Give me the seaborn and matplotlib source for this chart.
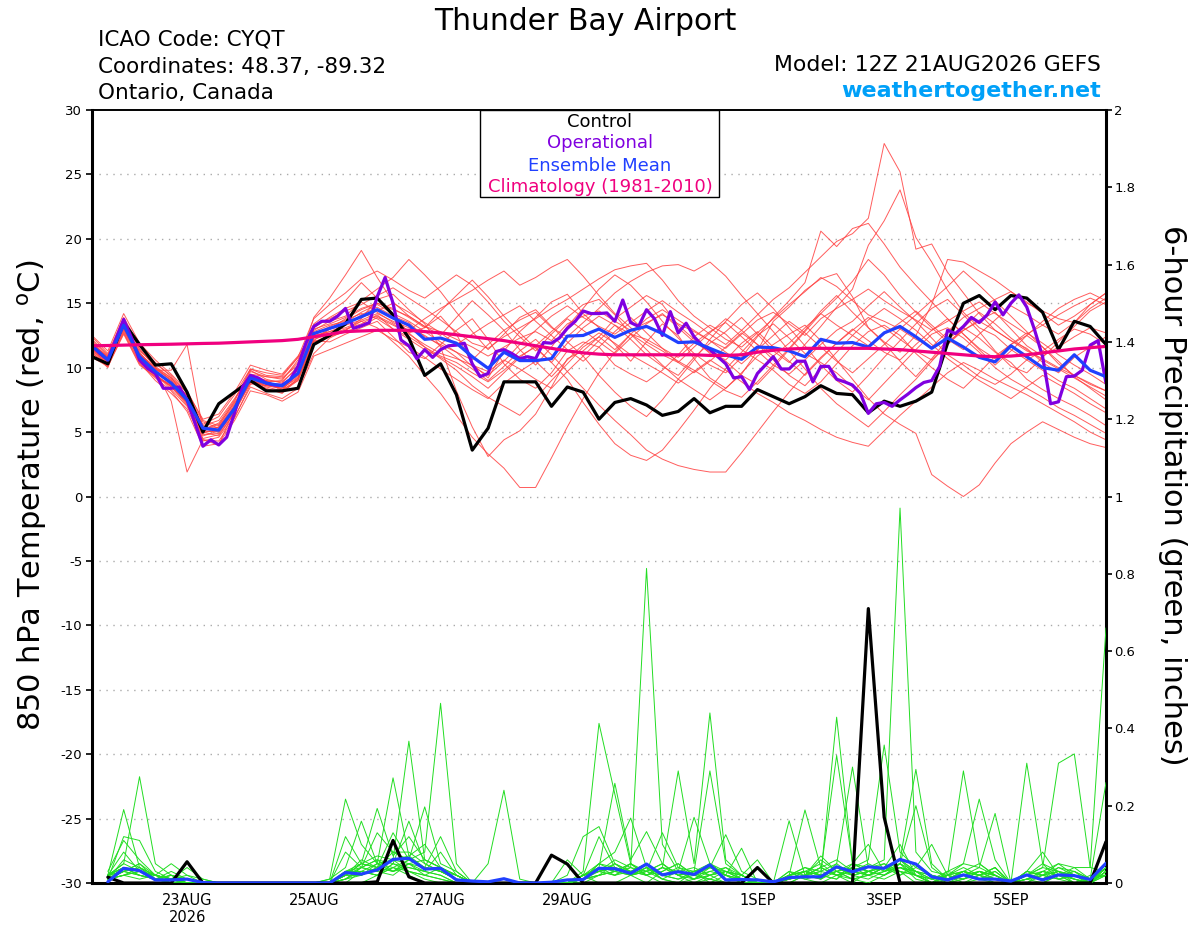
import numpy as np
import pandas as pd
import seaborn as sns
import matplotlib.pyplot as plt
from matplotlib.patches import Rectangle

# Tiempos ------------------------------------------------------------------------
t6 = pd.date_range("2026-08-21 12:00", periods=65, freq="6h")   # ensemble 6h
t3 = pd.date_range("2026-08-21 12:00", periods=129, freq="3h")  # operativo 3h
tp = t6[1:]                                                     # precipitacion 6h

# 850 hPa temperatura (C) --------------------------------------------------------
control_t = [10.85, 10.3, 13.5, 11.8, 10.2, 10.3, 8.1, 5.0, 7.2, 8.1, 9.0, 8.2, 8.2,
             8.4, 11.8, 12.5, 13.4, 15.3, 15.4, 14.1, 12.3, 9.4, 10.3, 7.9, 3.6, 5.3,
             8.9, 8.9, 8.9, 7.0, 8.5, 8.1, 6.0, 7.3, 7.6, 7.1, 6.3, 6.6, 7.6,
             6.5, 7.0, 7.0, 8.3, 7.75, 7.2, 7.75, 8.6, 8.0, 7.9, 6.5, 7.4, 7.0,
             7.4, 8.1, 11.9, 15.0, 15.6, 14.5, 15.6, 15.4, 14.3, 11.4, 13.6, 13.2, 11.8]

oper_t = [11.7, 11.1, 10.6, 12.2, 13.75, 12.3, 10.6, 9.95, 9.55, 8.4,
          8.4, 8.5, 7.5, 5.7, 3.9, 4.4, 4.0, 4.6, 6.5, 8.5,
          9.4, 9.2, 8.8, 8.65, 8.65, 9.05, 10.1, 11.9, 13.2, 13.6,
          13.6, 14.0, 14.6, 13.05, 13.25, 13.5, 15.5, 17.0, 15.0, 12.15,
          11.7, 10.7, 11.4, 10.8, 11.4, 11.7, 11.75, 11.9, 10.3, 9.3,
          9.55, 11.25, 11.4, 11.1, 10.7, 10.85, 10.7, 11.95, 11.9, 12.3,
          13.05, 13.6, 14.4, 14.2, 14.2, 14.25, 13.6, 15.25, 13.5, 13.2,
          14.5, 13.8, 12.5, 14.35, 12.7, 13.45, 12.4, 11.75, 11.4, 10.85,
          10.3, 9.2, 9.3, 8.3, 9.55, 10.2, 10.85, 9.9, 9.9, 10.5,
          10.5, 8.9, 10.1, 10.1, 9.1, 8.9, 8.65, 8.0, 6.45, 7.2,
          7.3, 7.0, 7.5, 7.95, 8.45, 8.85, 9.0, 10.1, 12.9, 12.65,
          13.2, 13.9, 13.5, 14.1, 15.1, 14.1, 15.0, 15.65, 14.7, 12.9,
          10.85, 7.2, 7.35, 9.3, 9.35, 9.8, 11.75, 12.1, 8.8]

mean_t = [11.7, 10.6, 13.3, 10.85, 9.7, 8.8, 7.5, 5.3, 5.15, 6.85, 9.2, 8.8, 8.6,
          9.55, 12.65, 13.05, 13.45, 13.95, 14.5, 13.85, 13.3, 12.2, 12.3, 11.9, 10.85, 9.95,
          11.2, 10.55, 10.55, 10.7, 12.45, 12.5, 13.0, 12.35, 12.9, 13.2, 12.65, 11.95, 12.0,
          11.5, 11.0, 10.65, 11.6, 11.55, 11.3, 10.85, 12.2, 11.9, 11.95, 11.6, 12.7, 13.2,
          12.4, 11.5, 12.3, 11.6, 10.8, 10.45, 11.7, 10.85, 10.0, 9.8, 11.0, 9.8, 9.3]

clim_t = [11.7, 11.72, 11.75, 11.78, 11.8, 11.82, 11.85, 11.88, 11.9, 11.95, 12.0, 12.05, 12.1,
          12.2, 12.4, 12.6, 12.8, 12.85, 12.9, 12.9, 12.9, 12.8, 12.7, 12.55, 12.4, 12.25,
          12.1, 11.9, 11.7, 11.5, 11.3, 11.15, 11.05, 11.0, 11.0, 11.0, 11.0, 11.0, 11.0,
          10.95, 10.95, 11.0, 11.2, 11.35, 11.45, 11.5, 11.5, 11.5, 11.5, 11.5, 11.45, 11.4,
          11.3, 11.2, 11.1, 11.0, 10.9, 10.85, 10.9, 11.0, 11.15, 11.3, 11.45, 11.55, 11.65]

m01 = [12.1, 10.9, 13.8, 11.4, 10.1, 9.2, 7.8, 5.0, 4.7, 6.5, 9.7, 9.3, 9.1,
       10.4, 13.4, 14.3, 15.2, 16.6, 15.4, 14.1, 12.7, 13.1, 14.0, 12.6, 10.3, 9.2,
       11.3, 12.8, 13.9, 15.1, 15.7, 14.2, 13.1, 11.8, 10.5, 12.0, 13.4, 12.5, 10.7,
       9.2, 8.4, 9.5, 11.3, 13.6, 14.7, 16.0, 16.9, 17.3, 15.5, 13.1, 11.9, 10.5,
       9.3, 10.7, 12.2, 13.1, 12.3, 11.2, 10.4, 9.1, 8.3, 7.6, 7.0, 6.3, 5.5]
m02 = [11.3, 10.2, 12.8, 10.4, 9.0, 8.0, 6.8, 4.3, 4.6, 6.2, 8.5, 8.0, 7.6,
       8.4, 11.1, 12.3, 12.9, 13.8, 15.3, 15.7, 14.5, 13.4, 11.6, 8.2, 5.4, 3.1,
       4.4, 5.1, 6.4, 8.5, 10.7, 11.3, 12.4, 13.8, 14.7, 15.6, 14.9, 13.3, 12.2,
       11.1, 10.5, 9.4, 8.7, 10.0, 11.4, 12.8, 14.2, 15.4, 16.7, 18.4, 17.2, 15.6,
       14.3, 13.1, 12.0, 12.9, 13.7, 14.3, 13.0, 11.7, 10.9, 11.6, 12.4, 13.1, 12.7]
m03 = [11.9, 10.8, 13.6, 11.2, 9.8, 7.4, 1.9, 4.4, 4.0, 6.8, 9.4, 9.0, 8.3,
       9.0, 12.1, 12.0, 12.6, 13.1, 13.6, 12.4, 11.2, 10.7, 11.8, 12.9, 13.8, 12.2,
       10.3, 9.1, 8.4, 9.6, 11.3, 12.0, 11.6, 10.2, 9.5, 8.9, 9.8, 11.0, 12.4,
       13.3, 12.6, 11.4, 10.6, 9.8, 8.7, 8.0, 8.9, 10.3, 11.7, 12.8, 13.3, 12.5,
       11.1, 10.0, 9.1, 8.4, 9.6, 10.9, 11.8, 12.5, 11.6, 10.3, 9.4, 8.7, 8.2]
m04 = [11.5, 10.4, 13.2, 11.0, 9.8, 9.8, 11.8, 5.2, 5.6, 7.3, 9.0, 8.5, 8.2,
       9.9, 12.9, 13.6, 14.0, 15.2, 16.1, 17.0, 18.4, 17.2, 15.9, 14.3, 12.8, 11.4,
       12.6, 13.9, 14.5, 13.2, 12.0, 10.9, 9.4, 8.1, 7.0, 6.2, 7.5, 9.1, 10.6,
       12.2, 13.6, 14.9, 15.8, 14.6, 13.1, 11.7, 10.2, 9.0, 8.1, 9.4, 10.8, 12.1,
       13.4, 14.6, 15.3, 14.1, 12.8, 11.3, 10.1, 9.6, 10.8, 12.0, 13.2, 14.4, 15.1]
m05 = [12.5, 11.3, 14.2, 11.9, 10.6, 9.5, 8.2, 5.9, 5.5, 7.4, 9.8, 9.1, 8.8,
       10.1, 13.9, 15.4, 17.2, 19.1, 17.0, 15.1, 14.0, 13.2, 12.5, 13.9, 15.2, 14.1,
       12.9, 11.4, 10.2, 11.6, 13.2, 14.6, 16.1, 17.2, 16.4, 15.1, 13.6, 12.3, 11.1,
       10.2, 9.6, 10.8, 12.4, 13.9, 15.2, 16.6, 20.6, 19.4, 20.8, 21.2, 19.6, 17.8,
       16.4, 15.1, 13.8, 12.6, 11.4, 10.2, 11.3, 12.5, 13.6, 14.6, 15.3, 15.8, 15.2]
m06 = [11.6, 10.5, 13.5, 10.7, 9.5, 8.5, 7.1, 4.9, 5.4, 7.0, 9.1, 8.6, 8.4,
       9.3, 12.4, 12.8, 13.3, 14.1, 14.7, 14.0, 13.5, 12.4, 11.8, 11.2, 10.1, 9.4,
       10.5, 11.8, 12.9, 14.0, 14.8, 13.9, 13.2, 12.6, 13.5, 14.4, 15.2, 14.3, 13.5,
       12.6, 11.8, 12.9, 14.1, 15.3, 16.2, 17.4, 18.6, 19.8, 20.4, 21.6, 27.4, 25.2,
       19.2, 19.6, 17.4, 15.8, 14.2, 12.9, 12.1, 11.5, 10.4, 9.6, 10.8, 11.6, 12.4]
m07 = [10.8, 10.1, 12.6, 10.2, 9.3, 8.7, 7.7, 5.6, 6.2, 7.9, 9.9, 9.6, 9.4,
       10.8, 12.1, 13.0, 13.8, 14.5, 15.0, 14.6, 13.9, 13.1, 14.4, 15.6, 16.8, 15.5,
       14.0, 12.7, 11.5, 10.4, 11.9, 13.1, 14.0, 13.3, 12.2, 11.0, 10.1, 9.4, 10.8,
       11.9, 12.8, 13.9, 12.6, 11.3, 10.4, 11.8, 13.2, 14.7, 16.1, 19.5, 21.4, 23.8,
       20.1, 18.2, 16.0, 14.3, 13.1, 12.5, 11.4, 10.6, 9.8, 9.0, 8.4, 7.6, 6.8]
m08 = [11.4, 10.5, 13.1, 10.6, 9.4, 8.6, 7.2, 4.5, 4.8, 6.5, 8.9, 8.4, 8.0,
       9.2, 12.2, 12.6, 13.0, 13.4, 14.1, 13.0, 12.2, 11.4, 10.8, 10.1, 9.3, 8.4,
       9.6, 10.8, 11.7, 12.8, 13.9, 14.9, 15.3, 14.1, 12.6, 11.4, 10.2, 9.1, 8.3,
       7.5, 8.4, 9.6, 10.9, 11.8, 12.6, 13.3, 12.1, 10.6, 9.1, 7.6, 6.4, 5.6,
       4.9, 1.7, 0.8, 0.0, 0.9, 2.6, 4.1, 5.0, 5.8, 5.2, 4.6, 4.1, 3.8]
m09 = [12.0, 10.7, 13.4, 11.1, 9.9, 9.0, 7.6, 5.1, 5.0, 6.6, 8.8, 8.6, 8.7,
       9.5, 12.0, 12.5, 12.9, 13.6, 13.1, 12.0, 10.9, 9.4, 8.0, 6.3, 4.6, 3.3,
       2.2, 0.7, 0.7, 3.0, 5.4, 7.6, 9.6, 11.2, 12.6, 12.2, 11.5, 10.8, 11.9,
       12.8, 13.5, 12.4, 11.3, 10.2, 9.5, 10.6, 11.8, 12.9, 13.6, 14.8, 15.9, 14.7,
       13.6, 12.3, 11.0, 10.2, 9.3, 8.7, 9.5, 10.6, 11.3, 12.2, 13.0, 12.6, 11.8]
m10 = [11.8, 10.9, 13.0, 11.3, 10.3, 9.4, 8.0, 5.5, 5.9, 7.6, 9.5, 9.3, 9.2,
       10.2, 13.1, 13.9, 14.6, 15.1, 14.3, 13.5, 12.9, 13.8, 14.6, 15.3, 16.0, 16.8,
       17.5, 16.4, 17.0, 17.8, 18.4, 17.1, 15.6, 14.2, 13.1, 12.0, 11.3, 10.5, 9.8,
       9.0, 8.2, 7.7, 8.9, 10.2, 11.5, 12.9, 14.4, 15.6, 14.3, 13.1, 12.0, 11.2,
       12.5, 14.9, 18.4, 18.2, 17.5, 16.8, 15.9, 15.0, 14.4, 13.8, 13.5, 14.9, 15.8]
m11 = [11.1, 10.3, 12.9, 10.7, 9.6, 8.9, 7.9, 5.8, 5.3, 6.9, 9.0, 8.7, 8.5,
       9.8, 12.5, 13.2, 13.7, 14.2, 13.8, 13.0, 12.4, 11.6, 10.9, 10.4, 9.6, 8.9,
       9.8, 10.9, 11.6, 10.4, 9.1, 7.3, 5.6, 4.1, 3.2, 2.8, 3.6, 5.1, 6.7,
       8.4, 9.9, 11.2, 12.5, 13.4, 12.3, 11.1, 10.4, 9.6, 8.5, 7.5, 8.8, 10.1,
       11.4, 12.6, 13.1, 12.3, 11.2, 10.0, 9.1, 8.4, 7.7, 6.9, 6.3, 5.6, 4.9]
m12 = [12.4, 11.1, 13.9, 11.7, 10.4, 9.3, 7.4, 4.4, 4.3, 6.1, 8.7, 8.9, 9.0,
       10.6, 13.3, 13.8, 14.4, 14.9, 15.6, 16.2, 15.4, 14.6, 13.7, 12.8, 11.9, 11.5,
       12.4, 13.1, 13.8, 14.6, 15.3, 16.1, 16.9, 17.6, 17.9, 18.1, 16.8, 15.2, 14.0,
       13.1, 12.2, 11.6, 12.7, 13.8, 14.9, 15.9, 17.0, 16.3, 15.2, 14.1, 13.6, 13.0,
       12.2, 11.6, 12.8, 13.9, 14.6, 15.3, 15.9, 15.1, 14.2, 13.3, 14.0, 14.9, 15.8]
m13 = [11.2, 10.0, 13.1, 10.8, 9.5, 8.3, 7.0, 4.7, 5.1, 7.1, 9.3, 8.9, 8.2,
       9.1, 12.3, 13.0, 13.5, 14.3, 14.9, 14.2, 13.6, 12.8, 12.0, 11.2, 10.6, 11.8,
       12.9, 13.7, 14.3, 13.1, 12.4, 13.5, 14.6, 15.8, 16.7, 17.4, 17.9, 18.0, 17.5,
       18.2, 17.1, 15.6, 14.2, 12.8, 11.3, 9.9, 8.4, 7.2, 6.3, 5.4, 6.6, 7.9,
       9.1, 10.5, 11.8, 13.1, 14.3, 13.4, 12.3, 11.4, 10.6, 9.9, 9.2, 8.5, 7.8]
m14 = [11.6, 10.6, 13.3, 10.9, 9.7, 8.8, 7.3, 5.1, 5.4, 7.2, 9.3, 8.7, 8.5,
       9.4, 12.6, 13.0, 13.3, 13.7, 14.2, 13.6, 13.1, 12.5, 11.7, 10.8, 9.9, 9.0,
       10.1, 11.3, 12.2, 11.0, 9.7, 8.4, 7.1, 5.9, 4.8, 3.6, 2.9, 2.4, 2.1,
       1.9, 1.9, 3.4, 5.0, 6.6, 8.1, 9.5, 10.8, 11.9, 12.9, 13.9, 13.1, 12.2,
       11.3, 10.6, 11.8, 12.9, 13.6, 12.9, 12.1, 11.3, 10.7, 10.0, 9.4, 8.8, 8.2]
m15 = [11.9, 10.6, 13.5, 11.0, 9.9, 9.1, 7.7, 5.4, 5.3, 7.0, 9.4, 9.0, 8.9,
       10.0, 13.0, 13.4, 13.9, 14.6, 15.0, 14.5, 14.0, 13.2, 12.8, 12.2, 11.6, 10.9,
       11.6, 12.3, 12.8, 12.1, 13.4, 14.0, 14.4, 13.6, 12.9, 13.5, 14.1, 13.4, 12.8,
       12.1, 11.5, 12.6, 13.7, 14.3, 13.4, 12.5, 13.8, 14.6, 15.3, 16.1, 15.2, 14.4,
       13.7, 12.9, 13.6, 14.4, 15.1, 14.2, 13.4, 12.6, 13.3, 14.1, 14.8, 15.4, 14.9]
m16 = [11.0, 10.1, 12.7, 10.3, 9.2, 8.2, 6.6, 3.9, 4.1, 5.9, 8.2, 7.9, 7.4,
       8.1, 10.9, 11.4, 11.9, 12.4, 12.9, 12.2, 11.6, 10.8, 9.9, 9.1, 8.3, 7.6,
       8.8, 9.7, 10.5, 9.3, 10.6, 11.8, 12.7, 11.9, 11.0, 10.3, 9.6, 8.8, 9.7,
       10.6, 9.8, 8.9, 8.0, 7.3, 6.5, 5.9, 5.2, 4.6, 4.2, 3.9, 5.1, 6.3,
       7.4, 8.5, 9.6, 10.4, 9.8, 9.1, 8.5, 7.9, 7.2, 6.5, 5.8, 5.0, 4.4]
m17 = [12.2, 11.0, 13.7, 11.5, 10.0, 9.0, 7.5, 5.2, 5.7, 7.5, 9.9, 9.4, 9.3,
       10.8, 13.8, 14.9, 15.8, 16.9, 17.5, 16.8, 16.0, 15.4, 16.3, 17.2, 16.4, 15.1,
       13.6, 12.4, 11.3, 12.6, 13.8, 12.9, 12.0, 11.1, 12.3, 13.4, 14.2, 13.1, 12.0,
       11.2, 10.6, 11.9, 12.8, 11.6, 10.5, 9.4, 10.7, 11.9, 13.0, 12.1, 11.2, 10.6,
       11.8, 12.9, 13.8, 12.6, 11.5, 10.7, 11.8, 12.7, 11.9, 11.0, 10.2, 9.5, 8.7]
m18 = [11.3, 10.4, 13.0, 10.5, 9.3, 8.6, 7.3, 4.8, 4.9, 6.7, 8.9, 8.3, 8.1,
       9.0, 12.0, 12.4, 12.8, 13.2, 13.9, 13.3, 12.7, 11.6, 10.7, 9.8, 8.6, 7.7,
       7.0, 6.3, 7.6, 9.0, 10.3, 11.6, 12.4, 11.4, 12.6, 13.8, 14.5, 13.7, 12.9,
       12.1, 11.2, 10.3, 11.4, 12.5, 13.6, 12.7, 11.6, 10.5, 9.6, 10.7, 11.8, 13.0,
       14.1, 15.2, 16.3, 17.5, 16.4, 15.2, 14.0, 12.8, 11.6, 10.5, 9.3, 8.4, 7.5]
m19 = [11.7, 10.8, 13.2, 11.1, 10.0, 9.2, 8.1, 6.0, 6.4, 8.1, 10.2, 9.8, 9.5,
       10.9, 12.8, 13.3, 13.6, 13.9, 14.4, 15.0, 14.3, 13.5, 12.7, 11.8, 12.6, 13.4,
       14.1, 14.8, 13.6, 12.5, 11.4, 10.5, 11.6, 12.8, 13.9, 12.7, 11.5, 10.4, 9.6,
       10.5, 11.6, 12.7, 11.8, 10.9, 11.9, 13.1, 14.2, 13.3, 12.5, 11.7, 12.6, 13.5,
       14.4, 13.3, 12.2, 11.4, 12.6, 13.7, 14.8, 14.1, 13.3, 12.6, 13.5, 14.6, 15.4]
m20 = [11.5, 10.2, 13.3, 10.6, 9.4, 8.5, 7.3, 5.0, 5.1, 6.8, 9.0, 8.6, 8.4,
       9.2, 12.5, 12.8, 13.1, 13.6, 14.0, 13.4, 12.6, 11.8, 11.1, 10.7, 10.2, 9.7,
       10.6, 9.9, 9.1, 8.4, 9.7, 10.9, 12.1, 13.3, 12.6, 11.8, 11.0, 10.4, 11.6,
       12.7, 13.8, 12.9, 11.8, 10.6, 9.4, 8.6, 9.9, 11.2, 12.5, 13.7, 14.6, 13.8,
       12.9, 11.8, 10.7, 9.8, 9.0, 8.3, 7.6, 8.5, 9.4, 8.7, 8.0, 7.2, 6.5]
members_t = [m01, m02, m03, m04, m05, m06, m07, m08, m09, m10,
             m11, m12, m13, m14, m15, m16, m17, m18, m19, m20]

# Precipitacion 6h (pulgadas), 21AUG 18Z en adelante -----------------------------
control_p = [.015, 0, 0, 0, 0, .055, 0, 0, 0, 0, 0, 0, 0, 0, 0, 0,
             0, .003, .11, .016, 0, 0, 0, 0, 0, 0, 0, 0, .072, .049, 0, 0,
             0, 0, 0, 0, 0, 0, 0, 0, 0, .04, 0, 0, 0, 0, 0, 0,
             .71, .17, 0, 0, 0, 0, 0, 0, 0, 0, 0, 0, 0, 0, 0, .107]
mean_p = [.003, .038, .032, .008, .008, .01, .001, 0, 0, 0, 0, 0, 0, 0, 0, .027,
          .023, .034, .061, .064, .036, .038, .008, .005, .003, .011, 0, 0, .002, .008, .009, .038,
          .037, .025, .049, .021, .029, .022, .047, .008, .009, .008, .003, .014, .016, .016, .042, .029,
          .042, .038, .061, .049, .016, .008, .021, .01, .01, .005, .021, .008, .021, .019, .009, .051]

g01 = [.02, .19, .04, .01, 0, 0, 0, 0, 0, 0, 0, 0, 0, 0, 0, .01,
       .03, .02, .04, .02, 0, 0, 0, 0, 0, 0, 0, 0, 0, .06, .02, 0,
       0, .02, .04, .01, 0, .03, 0, .02, .09, 0, 0, .03, .01, 0, .02, .04,
       .02, .01, .03, 0, 0, .02, .05, .217, .06, 0, 0, 0, .02, 0, 0, .03]
g02 = [.01, .12, .11, .03, .01, 0, 0, 0, 0, 0, 0, 0, 0, 0, 0, .02,
       .02, .04, .06, .03, .01, 0, 0, 0, 0, 0, 0, 0, 0, .02, .12, .146,
       .05, .02, 0, .03, .05, .02, .01, 0, 0, 0, 0, .01, .03, .05, .02, 0,
       .03, .04, .1, .02, 0, 0, .01, .03, .02, 0, 0, .03, .05, .02, 0, .04]
g03 = [.03, .11, .06, .02, 0, 0, 0, 0, 0, 0, 0, 0, 0, 0, 0, 0,
       0, .02, .05, .03, .02, .01, 0, 0, 0, 0, 0, 0, 0, 0, .03, .413,
       .23, .05, .02, 0, 0, .01, .04, .02, 0, 0, 0, 0, .02, .06, .03, .01,
       0, .02, .05, .03, .01, 0, 0, .02, .04, 0, .03, .08, .02, 0, 0, .02]
g04 = [.02, .08, .03, .01, .03, .01, 0, 0, 0, 0, 0, 0, 0, 0, 0, .02,
       .04, .03, .02, .05, .03, .02, 0, 0, 0, 0, 0, 0, 0, 0, .02, .12,
       .04, .02, .03, .01, 0, 0, .02, .03, .01, 0, 0, .02, .04, .02, .01, .05,
       .1, .03, .04, .02, 0, .02, .04, .02, 0, 0, .02, .05, .03, 0, .01, .05]
g05 = [.01, .06, .04, .02, .01, 0, 0, 0, 0, 0, 0, 0, 0, 0, 0, .03,
       .03, .02, .04, .06, .04, .03, .01, 0, 0, 0, 0, 0, 0, 0, .01, .04,
       .258, .06, .133, .05, .02, 0, .01, .03, .02, 0, 0, .01, .02, .04, .06, .03,
       .02, .04, .06, .02, 0, .03, .02, .01, 0, 0, .31, .05, .01, 0, .02, .02]
g06 = [.02, .04, .02, .01, .02, .01, 0, 0, 0, 0, 0, 0, 0, 0, 0, .01,
       .04, .06, .03, .05, .02, .04, .02, 0, 0, 0, 0, 0, 0, 0, .02, .05,
       .08, .168, .04, .02, .01, .03, .02, 0, 0, 0, 0, .02, .03, .01, .04, .02,
       .03, .05, .02, .04, .1, .02, 0, .01, .03, 0, 0, .02, .03, .01, 0, .03]
g07 = [.01, .03, .02, .01, .01, .02, .01, 0, 0, 0, 0, 0, 0, 0, 0, .01,
       .02, .04, .03, .05, .06, .04, .01, 0, 0, 0, 0, 0, 0, 0, .01, .03,
       .06, .04, .814, .1, .03, .01, .02, .04, .01, 0, 0, 0, .02, .03, .05, .02,
       .01, .03, .04, .02, 0, 0, .02, .04, .02, 0, .01, .03, .02, .01, 0, .04]
g08 = [.02, .05, .275, .05, .02, .01, 0, 0, 0, 0, 0, 0, 0, 0, 0, .02,
       .02, .05, .04, .03, .02, .01, 0, 0, 0, 0, 0, 0, 0, 0, .02, .03,
       .02, .05, .03, .13, .04, .02, .01, 0, .02, 0, 0, .01, .02, .04, .02, .03,
       .02, .04, .06, .03, .01, .02, .29, .05, .02, 0, .01, 0, .02, .03, .01, .02]
g09 = [.01, .03, .05, .02, .01, 0, 0, 0, 0, 0, 0, 0, 0, 0, 0, 0,
       .03, .02, .05, .04, .03, .02, 0, 0, 0, 0, 0, 0, 0, 0, 0, .02,
       .05, .03, .02, .04, .29, .05, .44, .06, .02, 0, 0, .02, .03, .02, .01, .04,
       .03, .02, .05, .02, 0, .01, .03, .02, .01, 0, .02, .04, .31, .334, .04, .03]
g10 = [.02, .04, .03, .02, .05, .02, 0, 0, 0, 0, 0, 0, 0, 0, 0, .01,
       .04, .03, .06, .05, .04, .03, .01, 0, .05, .24, .01, 0, 0, 0, .01, .02,
       .03, .02, .04, .02, .03, .17, .05, .02, .01, 0, 0, .01, .02, .03, .02, .01,
       .02, .03, .05, .01, 0, .02, .01, .03, .02, 0, .01, .02, .04, .02, 0, .03]
g11 = [.01, .02, .03, .02, .01, .04, .01, 0, 0, 0, 0, 0, 0, 0, 0, .02,
       .05, .04, .03, .06, .08, .465, .05, 0, 0, 0, 0, 0, 0, 0, .02, .03,
       .04, .02, .03, .02, .01, .02, .04, .03, .01, 0, 0, .02, .01, .02, .03, .01,
       .02, .04, .03, .02, .01, .03, .05, .04, .18, 0, .01, .02, .03, .01, 0, .02]
g12 = [.01, .02, .04, .01, 0, .01, 0, 0, 0, 0, 0, 0, 0, 0, .01, .217,
       .1, .05, .03, .04, .03, .08, .02, 0, 0, 0, 0, 0, 0, 0, .02, .04,
       .03, .05, .02, .04, .02, .01, .03, .02, 0, 0, 0, .02, .04, .03, .33, .05,
       .03, .02, .04, .03, 0, .02, .03, .01, .02, 0, .03, .02, .01, .02, 0, .05]
g13 = [.02, .03, .02, .01, .01, 0, 0, 0, 0, 0, 0, 0, 0, 0, 0, .12,
       .05, .04, .08, .06, .04, .03, .01, 0, 0, 0, 0, 0, 0, 0, .01, .05,
       .04, .03, .05, .02, .04, .03, .29, .05, .02, 0, 0, .01, .02, .04, .02, .03,
       .05, .03, .06, .294, .05, .01, .02, .03, .01, 0, .02, .01, .03, .02, 0, .04]
g14 = [.01, .04, .03, .02, .01, .01, 0, 0, 0, 0, 0, 0, 0, 0, 0, .08,
       .04, .06, .05, .16, .05, .03, .02, 0, 0, 0, 0, 0, 0, 0, .02, .03,
       .02, .04, .03, .05, .02, .03, .04, .125, .03, .01, 0, .02, .03, .02, .04, .02,
       .03, .04, .02, .05, .02, 0, .01, .02, .03, 0, .02, .01, .02, .03, .01, .26]
g15 = [.02, .03, .05, .01, .02, 0, 0, 0, 0, 0, 0, 0, 0, 0, .01, .04,
       .16, .05, .06, .07, .04, .12, .03, 0, 0, 0, 0, 0, 0, 0, .01, .02,
       .03, .02, .04, .01, .03, .02, .05, .03, .02, 0, 0, .03, .02, .01, .05, .3,
       .04, .05, .03, .02, .01, .02, .03, .05, .02, 0, .01, .03, .02, .04, .01, .02]
g16 = [.01, .02, .01, .02, .01, 0, 0, 0, 0, 0, 0, 0, 0, 0, 0, .02,
       .05, .193, .07, .12, .06, .04, .02, 0, 0, 0, 0, 0, 0, 0, .02, .04,
       .02, .03, .05, .02, .03, .04, .02, .03, .02, .06, 0, .01, .03, .02, .03, .04,
       .06, .357, .08, .04, .02, .01, .03, .02, .04, 0, .03, .02, .01, .02, 0, .03]
g17 = [.02, .04, .02, .01, 0, 0, 0, 0, 0, 0, 0, 0, 0, 0, 0, .03,
       .04, .13, .08, .08, .05, .03, .01, 0, 0, 0, 0, 0, 0, 0, .02, .03,
       .04, .02, .03, .05, .02, .03, .04, .02, .01, 0, 0, .161, .02, .01, .03, .05,
       .04, .06, .97, .08, .03, .02, .01, .03, .02, 0, .02, .04, .03, .02, .01, .04]
g18 = [.01, .03, .04, .02, .01, .01, 0, 0, 0, 0, 0, 0, 0, 0, 0, .03,
       .03, .05, .272, .07, .1, .04, .02, 0, 0, 0, 0, 0, 0, 0, .01, .02,
       .03, .05, .02, .04, .03, .01, .02, .03, .01, 0, 0, .02, .189, .04, .02, .03,
       .02, .04, .05, .2, .04, .01, .03, .02, .01, 0, .02, .01, .04, .03, 0, .05]
g19 = [.02, .05, .03, .01, .02, 0, 0, 0, 0, 0, 0, 0, 0, 0, 0, .02,
       .06, .04, .13, .06, .197, .05, .03, 0, 0, 0, 0, 0, 0, 0, .02, .03,
       .05, .03, .02, .04, .02, .03, .05, .02, .01, 0, 0, .01, .02, .07, .03, .02,
       .03, .02, .04, .03, .02, .01, .02, .03, .01, 0, .03, .02, .05, .04, .04, .66]
g20 = [.01, .02, .03, .02, .01, .01, 0, 0, 0, 0, 0, 0, 0, 0, 0, .03,
       .05, .07, .06, .367, .06, .04, .02, 0, 0, 0, 0, 0, 0, 0, .01, .05,
       .03, .04, .02, .03, .05, .02, .03, .04, .02, 0, 0, .02, .03, .02, .429, .05,
       .03, .04, .06, .03, .02, .01, .03, .02, .04, 0, .02, .03, .02, .01, 0, .03]
members_p = [g01, g02, g03, g04, g05, g06, g07, g08, g09, g10,
             g11, g12, g13, g14, g15, g16, g17, g18, g19, g20]

tick_fechas = pd.to_datetime(["2026-08-23", "2026-08-25", "2026-08-27", "2026-08-29",
                              "2026-09-01", "2026-09-03", "2026-09-05"])
tick_etiquetas = ["23AUG\n2026", "25AUG", "27AUG", "29AUG", "1SEP", "3SEP", "5SEP"]

# Colores -----------------------------------------------------------------------
C_MIEMBRO_T = "#ff4040"
C_MIEMBRO_P = "#22dd22"
C_OPER = "#8000e0"
C_MEDIA = "#2040ff"
C_CLIMA = "#f0007f"
C_WEB = "#00a0f8"

# Tablas largas para seaborn ----------------------------------------------------
df_t = pd.DataFrame({
    "time": np.tile(t6, len(members_t)),
    "temp": np.concatenate(members_t),
    "member": np.repeat(np.arange(len(members_t)), len(t6)),
})
df_p = pd.DataFrame({
    "time": np.tile(tp, len(members_p)),
    "prcp": np.concatenate(members_p),
    "member": np.repeat(np.arange(len(members_p)), len(tp)),
})

# Figura ------------------------------------------------------------------------
sns.set_theme(style="white")
plt.rcParams["font.family"] = ["DejaVu Sans"]
plt.rcParams["text.color"] = "black"
plt.rcParams["axes.labelcolor"] = "black"
plt.rcParams["xtick.color"] = "black"
plt.rcParams["ytick.color"] = "black"

W, H = 1200, 927
fig = plt.figure(figsize=(W / 100, H / 100), dpi=100)
ax = fig.add_axes([92 / W, 1 - 883 / H, (1106 - 92) / W, (883 - 110) / H])

def fx(px):
    return px / W

def fy(py):
    return 1 - py / H

# Temperatura
sns.lineplot(data=df_t, x="time", y="temp", units="member", estimator=None,
             color=C_MIEMBRO_T, lw=0.7, alpha=0.85, ax=ax, legend=False)
sns.lineplot(x=t6, y=control_t, color="black", lw=2.3, ax=ax)
sns.lineplot(x=t3, y=oper_t, color=C_OPER, lw=2.3, ax=ax)
sns.lineplot(x=t6, y=mean_t, color=C_MEDIA, lw=2.3, ax=ax)
sns.lineplot(x=t6, y=clim_t, color=C_CLIMA, lw=2.3, ax=ax)

ax.set_xlim(t6[0], t6[-1])
ax.set_ylim(-30, 30)
ax.set_yticks(np.arange(-30, 31, 5))
ax.set_yticklabels([str(v) for v in range(-30, 31, 5)], fontsize=9.5, color="black")
ax.set_xticks(tick_fechas)
ax.set_xticklabels(tick_etiquetas, fontsize=10.5, color="black")
ax.set_xlabel("")
ax.set_ylabel("")
for g in range(-25, 30, 5):
    ax.axhline(g, color="#aaaaaa", lw=1, ls=(0, (1, 4)), zorder=0)
ax.tick_params(axis="y", direction="out", length=4, width=1.2, pad=3, colors="black")
ax.tick_params(axis="x", length=0, pad=7, colors="black")
for s in ["left", "bottom", "right"]:
    ax.spines[s].set_linewidth(2.2)
    ax.spines[s].set_color("black")
ax.spines["top"].set_linewidth(1.4)
ax.spines["top"].set_color("black")

# Precipitacion
ax2 = ax.twinx()
sns.lineplot(data=df_p, x="time", y="prcp", units="member", estimator=None,
             color=C_MIEMBRO_P, lw=0.7, ax=ax2, legend=False)
sns.lineplot(x=tp, y=control_p, color="black", lw=2.3, ax=ax2)
sns.lineplot(x=tp, y=mean_p, color=C_MEDIA, lw=2.3, ax=ax2)
ax2.set_ylim(0, 2)
ax2.set_xlim(t6[0], t6[-1])
ax2.set_yticks(np.arange(0, 2.01, 0.2))
ax2.set_yticklabels([f"{v:g}" for v in np.round(np.arange(0, 2.01, 0.2), 1)],
                    fontsize=9.5, color="black")
ax2.set_ylabel("")
ax2.set_xlabel("")
ax2.tick_params(axis="y", direction="out", length=4, width=1.2, pad=2, colors="black")
ax2.grid(False)
for s in ax2.spines.values():
    s.set_visible(False)

# Caja de leyenda
ax.add_patch(Rectangle((fx(480), fy(197)), fx(719) - fx(480), fy(110) - fy(197),
                       transform=fig.transFigure, fill=True, facecolor="white",
                       edgecolor="black", lw=1.0, zorder=5))
leyenda = [("Control", "black", 127.3), ("Operational", C_OPER, 148.3),
           ("Ensemble Mean", C_MEDIA, 170.7), ("Climatology (1981-2010)", C_CLIMA, 192.3)]
for txt, col, yb in leyenda:
    fig.text(fx(600), fy(yb), txt, color=col, fontsize=13, ha="center", va="baseline", zorder=6)

# Textos
fig.text(fx(585), fy(29.5), "Thunder Bay Airport", fontsize=21.5, ha="center", va="baseline",
         color="black")
fig.text(fx(98), fy(45.7), "ICAO Code: CYQT", fontsize=15.5, ha="left", va="baseline",
         color="black")
fig.text(fx(98), fy(72.7), "Coordinates: 48.37, -89.32", fontsize=15.5, ha="left",
         va="baseline", color="black")
fig.text(fx(98), fy(99.3), "Ontario, Canada", fontsize=15.5, ha="left", va="baseline",
         color="black")
fig.text(fx(1101), fy(70.7), "Model: 12Z 21AUG2026 GEFS", fontsize=15.8, ha="right",
         va="baseline", color="black")
fig.text(fx(1101), fy(97.3), "weathertogether.net", fontsize=16, fontweight="bold",
         color=C_WEB, ha="right", va="baseline")
fig.text(fx(32), fy(495), "850 hPa Temperature (red, $^\\mathrm{o}$C)", fontsize=22,
         rotation=90, ha="center", va="center", color="black")
fig.text(fx(1172), fy(495), "6-hour Precipitation (green, inches)", fontsize=22,
         rotation=270, ha="center", va="center", color="black")

fig.savefig("out.png", dpi=100)
